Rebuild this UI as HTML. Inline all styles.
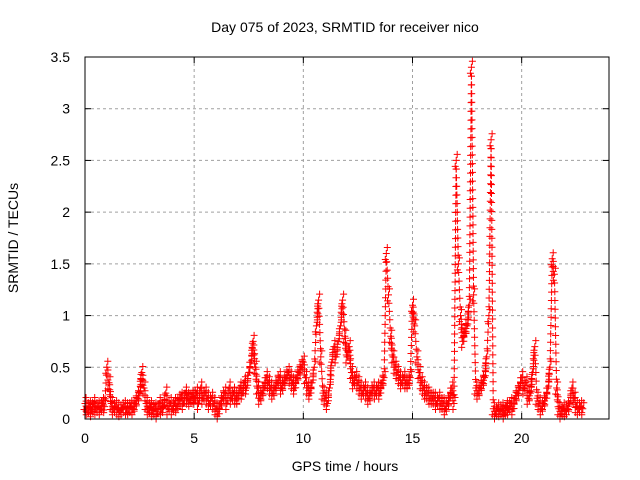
<!DOCTYPE html>
<html><head><meta charset="utf-8"><style>
body{margin:0;background:#fff}
svg{display:block;font-family:"Liberation Sans",sans-serif}
</style></head><body>
<svg id="chart" width="640" height="480">
<rect width="640" height="480" fill="#fff"/>
<g id="grid"></g>
<g id="axes"></g>
<path id="marks" fill="none" stroke="#ff0000" stroke-width="1"/>
<rect x="85" y="57" width="524" height="362" fill="none" stroke="#000"/>
<text x="345" y="32" text-anchor="middle" font-size="14">Day 075 of 2023, SRMTID for receiver nico</text>
<text x="345" y="471" text-anchor="middle" font-size="14">GPS time / hours</text>
<text transform="translate(18,238) rotate(-90)" text-anchor="middle" font-size="14">SRMTID / TECUs</text>
</svg>
<script>
const xTicks=[0,5,10,15,20];
const yTicks=[0,0.5,1,1.5,2,2.5,3,3.5];
const yTickLabels=["0","0.5","1","1.5","2","2.5","3","3.5"];
const timeStep=0.1;
const values=[
0.15,0.1,0.12,0.08,0.15,0.1,0.12,0.1,0.15,0.12,
0.5,0.35,0.15,0.1,0.12,0.1,0.08,0.1,0.12,0.1,
0.1,0.12,0.1,0.15,0.2,0.25,0.45,0.3,0.15,0.1,
0.12,0.08,0.1,0.05,0.15,0.1,0.12,0.25,0.1,0.15,
0.1,0.15,0.12,0.18,0.2,0.15,0.25,0.2,0.18,0.22,
0.2,0.25,0.15,0.3,0.2,0.25,0.2,0.15,0.2,0.15,
0.1,0.05,0.15,0.2,0.25,0.15,0.3,0.2,0.25,0.2,
0.2,0.3,0.25,0.35,0.3,0.45,0.55,0.75,0.5,0.3,
0.2,0.25,0.3,0.4,0.35,0.3,0.25,0.3,0.35,0.4,
0.3,0.35,0.4,0.45,0.4,0.35,0.3,0.4,0.45,0.5,
0.55,0.4,0.3,0.25,0.35,0.5,0.9,1.15,0.6,0.25,
0.2,0.15,0.3,0.55,0.7,0.6,0.75,0.9,1.15,0.8,
0.6,0.7,0.45,0.35,0.4,0.35,0.3,0.25,0.3,0.25,
0.2,0.25,0.3,0.25,0.3,0.25,0.35,0.4,1.6,1.2,
0.8,0.6,0.5,0.45,0.4,0.35,0.4,0.35,0.35,0.4,
1.1,0.9,0.6,0.45,0.35,0.3,0.25,0.25,0.2,0.2,
0.2,0.15,0.2,0.15,0.15,0.1,0.15,0.2,0.3,0.15,
2.5,1.5,1.0,0.75,0.85,0.9,1.1,3.4,1.2,0.3,
0.25,0.3,0.35,0.4,0.6,1.0,2.7,0.1,0.05,0.1,
0.08,0.1,0.05,0.12,0.1,0.15,0.1,0.2,0.25,0.3,
0.4,0.3,0.35,0.2,0.25,0.45,0.7,0.2,0.15,0.1,
0.15,0.2,0.3,0.5,1.55,1.4,0.3,0.1,0.05,0.1,
0.08,0.1,0.15,0.3,0.2,0.12,0.1,0.12,0.1];
const X0=85,X1=609,Y0=419,Y1=57;
function xs(h){return X0+h*(X1-X0)/24;}
function ys(v){return Y0-v*(Y0-Y1)/3.5;}
const NS="http://www.w3.org/2000/svg";
const grid=document.getElementById('grid'),axes=document.getElementById('axes');
function el(t,a,p){const e=document.createElementNS(NS,t);for(const k in a)e.setAttribute(k,a[k]);p.appendChild(e);return e;}
xTicks.forEach(t=>{const x=xs(t);
 if(t>0){const g=el('line',{x1:x,x2:x,y1:Y1,y2:Y0,stroke:'#a0a0a0','stroke-dasharray':'3,3'},grid);
 
 }
 el('line',{x1:x,x2:x,y1:Y0,y2:Y0-6,stroke:'#000'},axes);
 el('line',{x1:x,x2:x,y1:Y1,y2:Y1+6,stroke:'#000'},axes);
 const tx=el('text',{x:x,y:443,'text-anchor':'middle','font-size':14},axes);tx.textContent=t;
 
 });
yTicks.forEach((t,i)=>{const y=ys(t);
 if(t>0&&t<3.5){const g=el('line',{x1:X0,x2:X1,y1:y,y2:y,stroke:'#a0a0a0','stroke-dasharray':'3,3'},grid);
 
 }
 el('line',{x1:X0,x2:X0+6,y1:y,y2:y,stroke:'#000'},axes);
 el('line',{x1:X1,x2:X1-6,y1:y,y2:y,stroke:'#000'},axes);
 const tx=el('text',{x:70,y:y+5,'text-anchor':'end','font-size':14},axes);tx.textContent=yTickLabels[i];
 
 });
let d='';
function mark(x,y){d+='M'+(x-3.5).toFixed(1)+' '+y.toFixed(1)+'h7M'+x.toFixed(1)+' '+(y-3.5).toFixed(1)+'v7';}
for(let i=0;i<values.length;i++){
 const x=xs(i*timeStep),y=ys(values[i]);
 mark(x,y);mark(x-1,Math.min(Y0,y+6));mark(x+1,y-6);
 if(i+1<values.length){const x2=xs((i+1)*timeStep),y2=ys(values[i+1]);
  const n=Math.max(2,Math.ceil(Math.abs(y2-y)/9));
  for(let k=1;k<n;k++){const xi=x+(x2-x)*k/n,yi=y+(y2-y)*k/n;mark(xi,yi);if(Math.abs(y2-y)<30){mark(xi,Math.min(Y0,yi+5));mark(xi,yi-5);}}}
}
document.getElementById('marks').setAttribute('d',d);
</script>
</body></html>
